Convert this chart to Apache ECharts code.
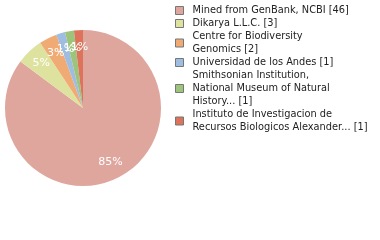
<!DOCTYPE html>
<html><head><meta charset="utf-8">
<script src="https://cdn.jsdelivr.net/npm/echarts@6/dist/echarts.min.js"></script>
<style>html,body{margin:0;padding:0;background:#fff}#c{width:380px;height:240px}</style>
</head><body><div id="c"></div>
<script>
const categories = ["Mined from GenBank, NCBI", "Dikarya L.L.C.", "Centre for Biodiversity Genomics", "Universidad de los Andes", "Smithsonian Institution, National Museum of Natural History...", "Instituto de Investigacion de Recursos Biologicos Alexander..."];
const legendLabels = ["Mined from GenBank, NCBI [46]", "Dikarya L.L.C. [3]", "Centre for Biodiversity\nGenomics [2]", "Universidad de los Andes [1]", "Smithsonian Institution,\nNational Museum of Natural\nHistory... [1]", "Instituto de Investigacion de\nRecursos Biologicos Alexander... [1]"];
const values = [46, 3, 2, 1, 1, 1];
const colors = ["#dfa69e", "#dde39f", "#f0aa74", "#9fbde0", "#9cc57b", "#dc735a"];
const total = values.reduce((a, b) => a + b, 0);
const data = categories.map((c, i) => ({ name: c, value: values[i] }));
const chart = echarts.init(document.getElementById('c'), null, { renderer: 'canvas' });
chart.setOption({
  animation: false,
  color: colors,
  legend: {
    orient: 'vertical', left: 175, top: 4, itemWidth: 8, itemHeight: 8, itemGap: 0,
    icon: 'rect', selectedMode: false, padding: 0,
    itemStyle: { borderColor: '#777', borderWidth: 1 },
    textStyle: { fontFamily: 'DejaVu Sans', fontSize: 9.8, lineHeight: 13, color: '#222', padding: [0, 0, 0, 4] },
    formatter: name => legendLabels[categories.indexOf(name)],
    data: categories
  },
  series: [{
    type: 'pie', center: [83, 108], radius: [0, 78], startAngle: 90, clockwise: true,
    silent: true, label: { show: false }, labelLine: { show: false }, data: data
  }, {
    type: 'pie', center: [83, 108], radius: [38, 78], startAngle: 90, clockwise: true,
    silent: true, itemStyle: { color: 'rgba(0,0,0,0)' }, avoidLabelOverlap: false,
    labelLayout: { hideOverlap: false },
    label: { show: true, position: 'inside', color: '#fff', fontFamily: 'DejaVu Sans', fontSize: 11,
      formatter: p => Math.floor(p.value / total * 100) + '%' },
    labelLine: { show: false }, data: data, legendHoverLink: false
  }]
});
</script></body></html>
